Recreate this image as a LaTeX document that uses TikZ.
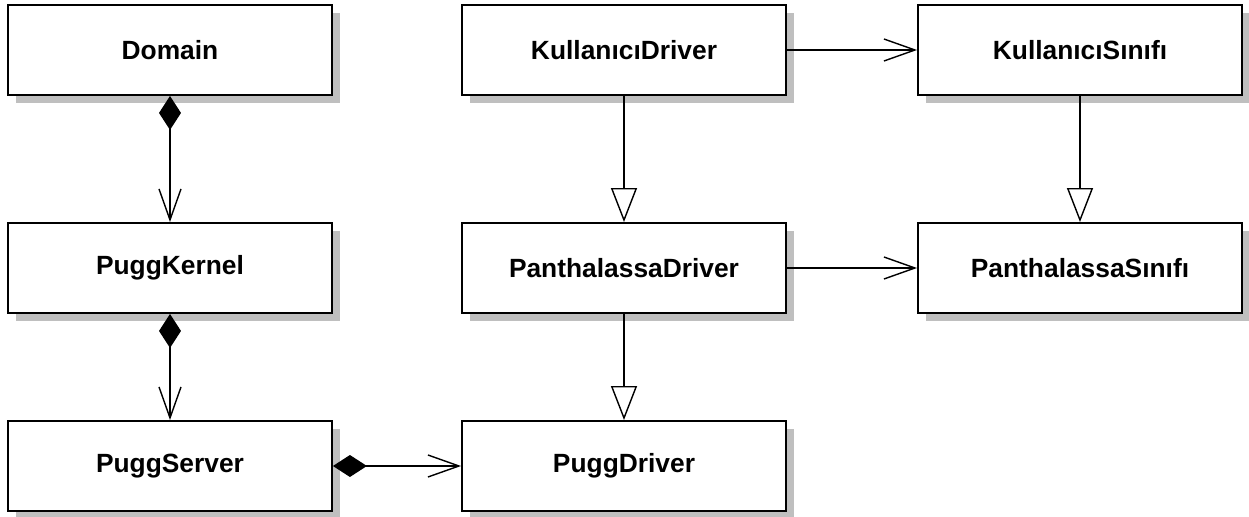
\documentclass[tikz,border=0pt]{standalone}
\usepackage{fontspec}
\setmainfont{Liberation Sans}
\usepackage{xcolor}
\usetikzlibrary{arrows.meta,shadows}
\definecolor{shade}{HTML}{BFBFBF}

\begin{document}
\begin{tikzpicture}[x=0.02cm,y=-0.02cm,every node/.style={font=\fontsize{15}{18}\selectfont\bfseries}]
      \tikzstyle{cls}=[rectangle,draw,line width=1.1pt,fill=white,minimum width=6.48cm,
                       minimum height=1.8cm,inner sep=0pt,
                       drop shadow={shadow xshift=0.16cm,shadow yshift=-0.16cm,fill=shade,opacity=1}];
      \tikzstyle{comp}=[line width=0.8pt,{Diamond[length=0.68cm,width=0.44cm]}-{Straight Barb[length=0.62cm,width=0.44cm]}];
      \tikzstyle{assoc}=[line width=0.8pt,-{Straight Barb[length=0.62cm,width=0.44cm]}];
      \tikzstyle{gen}=[line width=0.8pt,-{Triangle[open,length=0.68cm,width=0.52cm,fill=white]}];
      \useasboundingbox (0,0) rectangle (1249,517);
      \node[cls] (domain) at (170,50)  {Domain};
      \node[cls] (kernel) at (170,268) {PuggKernel};
      \node[cls] (server) at (170,466) {PuggServer};
      \node[cls] (kdrv)   at (624,50)  {KullanıcıDriver};
      \node[cls] (pdrv)   at (624,268) {PanthalassaDriver};
      \node[cls] (pugg)   at (624,466) {PuggDriver};
      \node[cls] (ksin)   at (1080,50) {KullanıcıSınıfı};
      \node[cls] (psin)   at (1080,268) {PanthalassaSınıfı};
      \draw[comp]  (domain)--(kernel); \draw[comp]  (kernel)--(server); \draw[comp] (server)--(pugg);
      \draw[assoc] (kdrv)--(ksin);     \draw[assoc] (pdrv)--(psin);
      \draw[gen]   (kdrv)--(pdrv);     \draw[gen]   (ksin)--(psin);     \draw[gen]  (pdrv)--(pugg);
    \end{tikzpicture}
\end{document}
